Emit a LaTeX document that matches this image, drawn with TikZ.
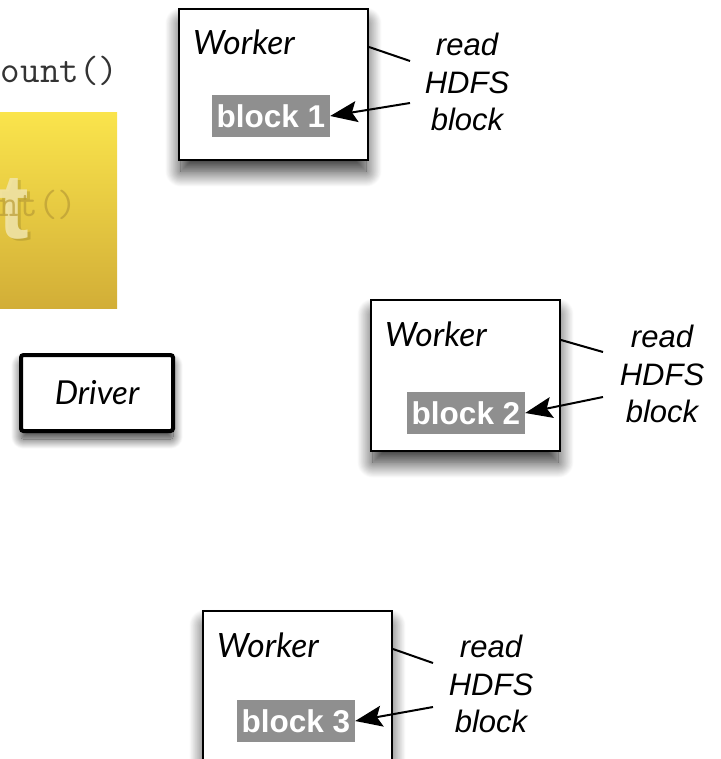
\documentclass[tikz,border=0pt]{standalone}
\usepackage{fontspec}
\setmainfont{Liberation Sans}
\newfontfamily\gillish{Lato}
\usetikzlibrary{arrows.meta,shadows.blur}
\definecolor{codegray}{HTML}{333333}
\definecolor{blockgray}{HTML}{8F8F8F}
\definecolor{goldtop}{HTML}{FAE44C}
\definecolor{goldbot}{HTML}{D2AE37}
\definecolor{ghostcode}{HTML}{B99C36}
\definecolor{ghostletter}{HTML}{F1E4A6}
\tikzset{
  wbox/.style={draw=black, line width=2.4pt, fill=white, minimum width=189pt, minimum height=151pt, inner sep=0pt,
    blur shadow={shadow xshift=0pt, shadow yshift=-13pt, shadow scale=0.98, shadow blur radius=16pt, shadow blur steps=24, shadow opacity=85}},
  dbox/.style={draw=black, line width=4pt, rounded corners=2.5pt, fill=white, minimum width=152pt, minimum height=76pt, inner sep=0pt,
    blur shadow={shadow xshift=0pt, shadow yshift=-8pt, shadow blur radius=10pt, shadow blur steps=20, shadow opacity=80},
    font=\gillish\itshape\fontsize{33}{38}\selectfont},
  wtitle/.style={anchor=base west, inner sep=0pt, font=\gillish\itshape\fontsize{33.5}{38}\selectfont},
  blk/.style={fill=blockgray, text=white, minimum width=118pt, minimum height=42pt, inner sep=0pt,
    font=\bfseries\fontsize{31.5}{36}\selectfont},
  note/.style={align=center, inner sep=0pt, font=\itshape\fontsize{31}{37.5}\selectfont},
  plain/.style={line width=2pt, draw=black},
  readarrow/.style={line width=2pt, draw=black, -{Stealth[length=27pt,width=21pt,inset=5pt]}},
  codetext/.style={anchor=base east, inner sep=0pt, font=\ttfamily\fontsize{38}{42}\selectfont},
}
\begin{document}
\begin{tikzpicture}[x=1pt,y=-1pt]
\useasboundingbox (0,0) rectangle (720,759);
\clip (0,0) rectangle (720,759);

% code line running off the left edge
\node[codetext, text=codegray] (code) at (118.5,83) {count()};

% yellow slide thumbnail with faded zoomed code
\begin{scope}
  \clip (0,113) rectangle (117,308);
  \shade[top color=goldtop, bottom color=goldbot] (0,113) rectangle (117,308);
  \node[anchor=base east, inner sep=0pt, text=black, opacity=0.12, font=\rmfamily\bfseries\fontsize{92}{100}\selectfont] (ghostts) at (32,240) {t};
  \node[anchor=base east, inner sep=0pt, text=ghostletter, opacity=0.9, font=\rmfamily\bfseries\fontsize{92}{100}\selectfont] (ghostt) at (29,238) {t};
  \node[codetext, text=ghostcode, opacity=0.7] (ghostc) at (77.5,217) {count()};
\end{scope}

% driver
\node[dbox] (drv) at (97,393) {Driver};

% worker 1
\node[wbox] (w1) at (273.5,84.5) {};
\node[wtitle] (w1t) at (193,55) {Worker};
\node[blk] (b1) at (271,116) {block 1};
\node[note] (r1) at (467,82) {read\\HDFS\\block};
\coordinate (w1e) at (369,47);
\coordinate (r1a) at (410,61);
\coordinate (r1b) at (410,103);
\draw[plain] (w1e) -- (r1a);
\draw[readarrow] (r1b) -- (b1.east);

% worker 2
\node[wbox] (w2) at (465.5,375.5) {};
\node[wtitle] (w2t) at (385,346) {Worker};
\node[blk] (b2) at (466,413) {block 2};
\node[note] (r2) at (662,374) {read\\HDFS\\block};
\coordinate (w2e) at (561,340);
\coordinate (r2a) at (603,352);
\coordinate (r2b) at (603,397);
\draw[plain] (w2e) -- (r2a);
\draw[readarrow] (r2b) -- (b2.east);

% worker 3 (runs past the bottom edge)
\node[wbox] (w3) at (297.5,686.5) {};
\node[wtitle] (w3t) at (217,657) {Worker};
\node[blk] (b3) at (296,721) {block 3};
\node[note] (r3) at (491,684) {read\\HDFS\\block};
\coordinate (w3e) at (393,649);
\coordinate (r3a) at (433,663);
\coordinate (r3b) at (433,707);
\draw[plain] (w3e) -- (r3a);
\draw[readarrow] (r3b) -- (b3.east);
\end{tikzpicture}
\end{document}
